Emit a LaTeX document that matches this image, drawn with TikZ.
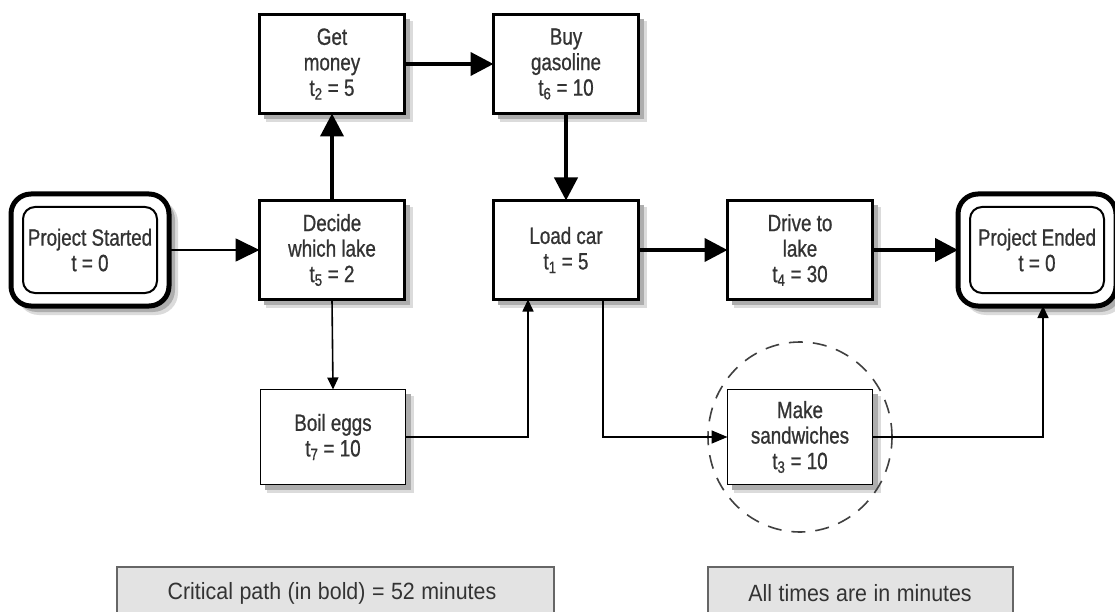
\documentclass[tikz,border=0pt]{standalone}
\usepackage{fontspec}
\setmainfont[FakeStretch=0.8,FakeBold=0.8]{Liberation Sans}
\newfontfamily\notefont[FakeStretch=0.91,WordSpace=1.1]{Liberation Sans}
\usetikzlibrary{arrows.meta,shapes.geometric}
\begin{document}
\begin{tikzpicture}[x=1pt,y=-1pt,
  every node/.style={inner sep=0pt, outer sep=0pt},
  task/.style={draw=black, line width=3.5pt, fill=white, align=center,
    minimum width=145pt, minimum height=99pt, text=black!80,
    font=\fontsize{23.5}{25.5}\selectfont},
  thintask/.style={task, line width=1.8pt},
  endouter/.style={draw=black, line width=5pt, fill=white, rounded corners=20pt,
    minimum width=158pt, minimum height=112pt},
  endinner/.style={draw=black, line width=2pt, fill=white, rounded corners=12pt,
    minimum width=134pt, minimum height=86pt, align=center, text=black!80,
    font=\fontsize{23.5}{25.5}\selectfont},
  shout/.style={fill=black!14},
  shin/.style={fill=black!32},
  crit/.style={line width=4pt, -{Triangle[length=23pt,width=23pt]}},
  norm/.style={line width=1.6pt, -{Triangle[length=12pt,width=11pt]}},
  note/.style={draw=black!60, line width=1.5pt, fill=black!11},
  notetext/.style={text=black!80, font=\notefont\fontsize{23.5}{25.5}\selectfont},
]
\clip (0,0) rectangle (1115,612);
\fill[white] (0,0) rectangle (1115,612);

% soft shadows beneath the boxes
\fill[shout] (266,207) rectangle (413,308);
\fill[shin]  (264,205) rectangle (410,305);
\fill[shout] (266,21) rectangle (413,122);
\fill[shin]  (264,19) rectangle (410,119);
\fill[shout] (500,21) rectangle (647,122);
\fill[shin]  (498,19) rectangle (644,119);
\fill[shout] (500,207) rectangle (647,308);
\fill[shin]  (498,205) rectangle (644,305);
\fill[shout] (734,207) rectangle (881,308);
\fill[shin]  (732,205) rectangle (878,305);
\fill[shout] (267,396) rectangle (414,493);
\fill[shin]  (265,394) rectangle (411,490);
\fill[shout] (734,396) rectangle (881,493);
\fill[shin]  (732,394) rectangle (878,490);
\fill[shout, rounded corners=22pt] (17,200) rectangle (178,315);
\fill[shin, rounded corners=22pt]  (15,198) rectangle (175,312);
\fill[shout, rounded corners=22pt] (964,200) rectangle (1125,315);
\fill[shin, rounded corners=22pt]  (962,198) rectangle (1122,312);

% start / end
\node[endouter] (start) at (90,250) {};
\node[endinner] (startin) at (90,250) {Project Started\\t = 0};
\node[endouter] (end) at (1037,250) {};
\node[endinner] (endin) at (1037,250) {Project Ended\\t = 0};

% tasks
\node[task] (decide) at (332,250) {Decide\\which lake\\t\textsubscript{5} = 2};
\node[task] (money) at (332,64) {Get\\money\\t\textsubscript{2} = 5};
\node[task] (gas) at (566,64) {Buy\\gasoline\\t\textsubscript{6} = 10};
\node[task] (load) at (566,250) {Load car\\t\textsubscript{1} = 5};
\node[task] (drive) at (800,250) {Drive to\\lake\\t\textsubscript{4} = 30};
\node[thintask, minimum height=95pt] (eggs) at (333,437) {Boil eggs\\t\textsubscript{7} = 10};
\node[thintask, minimum height=95pt] (sand) at (800,437) {Make\\sandwiches\\t\textsubscript{3} = 10};

% dashed ellipse
\node[draw=black!75, line width=1.6pt, dash pattern=on 14pt off 10pt, ellipse,
  minimum width=184pt, minimum height=190pt] (circ) at (800,437) {};

% connectors
\draw[line width=1.8pt, -{Triangle[length=24pt,width=23pt]}] (start.east) -- (decide.west);
\draw[crit] (decide.north) -- (money.south);
\draw[crit] (money.east) -- (gas.west);
\draw[crit] (gas.south) -- (load.north);
\draw[crit] (load.east) -- (drive.west);
\draw[crit] (drive.east) -- (end.west);
\draw[norm] (decide.south) -- (eggs.north);
\draw[norm] (eggs.east) -| ([xshift=-38pt]load.south);
\draw[norm, -{Triangle[length=16pt,width=13pt]}] ([xshift=37pt]load.south) |- (sand.west);
\draw[norm] (sand.east) -| ([xshift=6pt]end.south);

% notes
\node[note, minimum width=437pt, minimum height=60pt] (crnote) at (335.5,597) {};
\node[notetext] (crtext) at (332,593) {Critical path (in bold) = 52 minutes};
\node[note, minimum width=305pt, minimum height=60pt] (allnote) at (860.5,597) {};
\node[notetext] (alltext) at (860,593) {All times are in minutes};
\end{tikzpicture}
\end{document}
